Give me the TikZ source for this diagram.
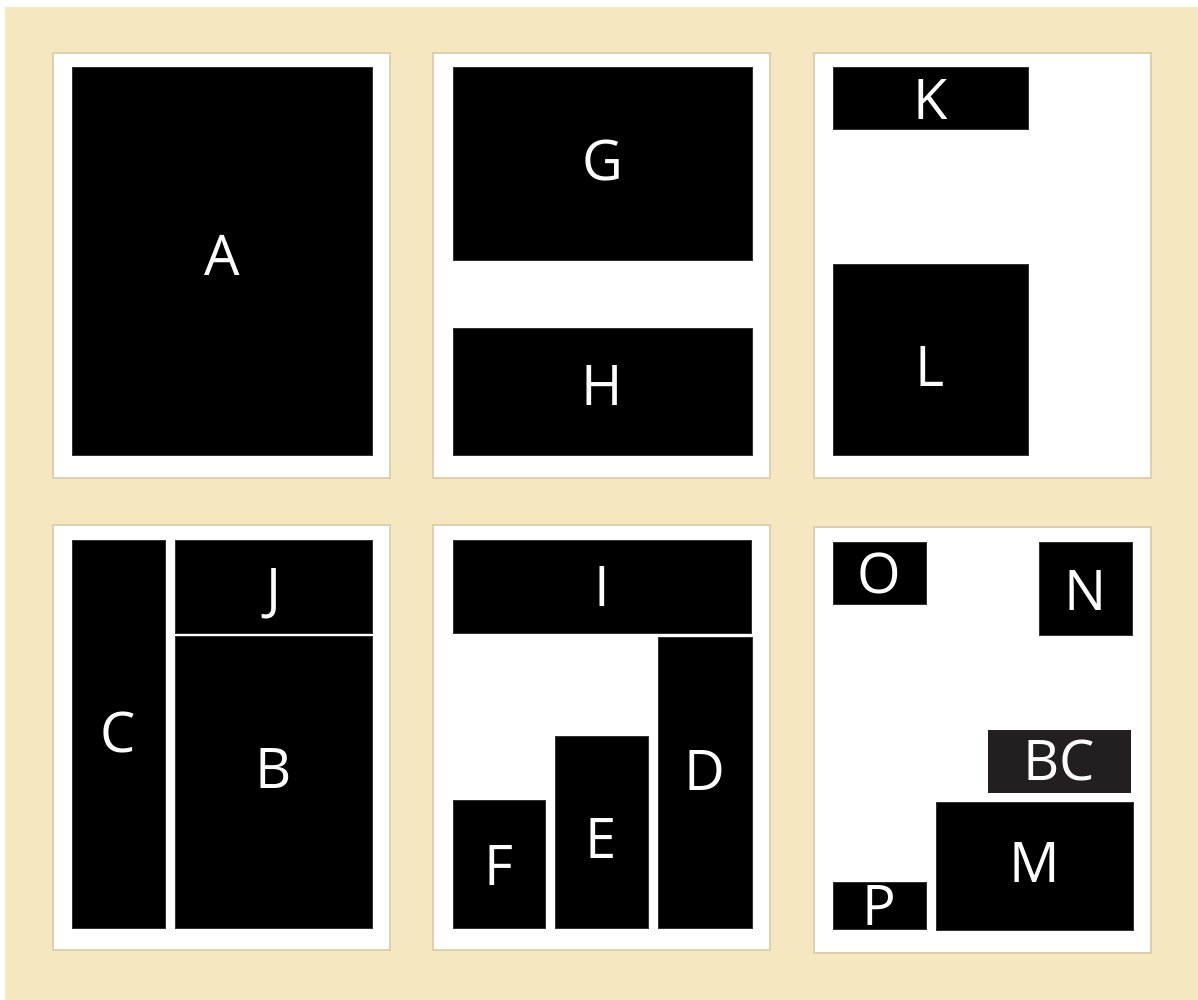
\documentclass[tikz,border=0pt]{standalone}
\usepackage{fontspec}
\setmainfont{Open Sans}
\definecolor{beige}{RGB}{245,232,192}
\definecolor{panelline}{RGB}{220,208,176}
\definecolor{darkbox}{RGB}{35,31,32}
\begin{document}
\begin{tikzpicture}[x=1pt,y=-1pt,
  panel/.style={draw=panelline,line width=1.5pt,fill=white},
  blk/.style={fill=black,draw=black!80,line width=0.4pt,inner sep=0pt,text=white,
    font=\fontsize{56}{60}\selectfont},
]
\useasboundingbox (0,0) rectangle (1198,1000);
\fill[white] (0,0) rectangle (1198,1000);
\fill[beige] (5,7) rectangle (1198,1000);
% panels
\draw[panel] (53,53) rectangle (390,478);
\draw[panel] (433,53) rectangle (770,478);
\draw[panel] (814,53) rectangle (1151,478);
\draw[panel] (53,525) rectangle (390,950);
\draw[panel] (433,525) rectangle (770,950);
\draw[panel] (814,527) rectangle (1151,953);
% boxes: [style]{name}{x1}{y1}{x2}{y2}{text}{text raise}
\newcommand{\mybox}[8][blk]{\node[#1,minimum width=#5-#3,minimum height=#6-#4] (#2) at ({(#3+#5)/2},{(#4+#6)/2}) {\raisebox{\dimexpr-20pt+#8pt\relax}[0pt][0pt]{#7}};}
\mybox{A}{72}{67}{372}{455}{A}{6}
\mybox{G}{453}{67}{752}{260}{G}{3}
\mybox{H}{453}{328}{752}{455}{H}{6}
\mybox{K}{833}{67}{1028}{129}{K}{-2}
\mybox{L}{833}{264}{1028}{455}{L}{-7}
\mybox{C}{72}{540}{165}{928}{C}{2}
\mybox{J}{175}{540}{372}{633}{J}{-2}
\mybox{B}{175}{636}{372}{928}{B}{14}
\mybox{I}{453}{540}{751}{633}{I}{0}
\mybox{D}{658}{637}{752}{928}{D}{12}
\mybox{E}{555}{736}{648}{928}{E}{-6}
\mybox{F}{453}{800}{545}{928}{F}{-1}
\mybox{O}{833}{542}{926}{604}{O}{0}
\mybox{N}{1039}{542}{1132}{635}{N}{-2}
\mybox[blk,fill=darkbox,draw=darkbox]{BC}{988}{730}{1130}{792}{BC}{1}
\mybox{M}{936}{802}{1133}{930}{M}{4}
\mybox{P}{833}{882}{926}{929}{P}{0}
\end{tikzpicture}
\end{document}
